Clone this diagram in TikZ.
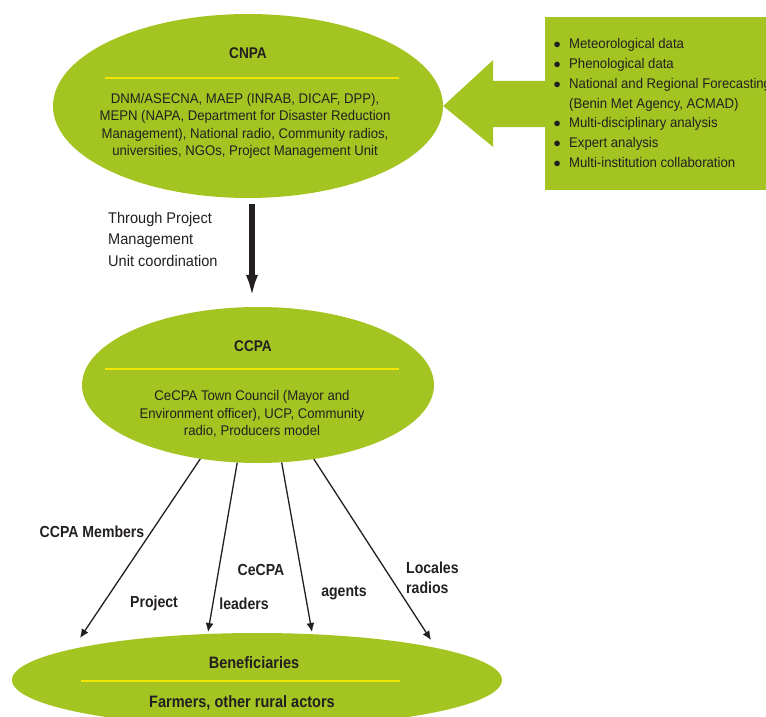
\documentclass[tikz,border=0pt]{standalone}
\usepackage{fontspec}
\setmainfont[FakeStretch=0.94,BoldFeatures={FakeStretch=0.88}]{Liberation Sans}
\usetikzlibrary{arrows.meta,shapes.geometric,calc}

\definecolor{leaf}{HTML}{A4C422}
\definecolor{rulecol}{HTML}{F2E500}
\definecolor{ink}{HTML}{231F20}

\newcommand\sepline[3]{\draw[rulecol, line width=2pt] (#1,#3) -- (#2,#3);}
\newcommand\itm{\makebox[16pt][l]{\hspace{0.5pt}$\bullet$}}

\tikzset{
  blob/.style={ellipse, fill=leaf, inner sep=0pt},
  body/.style={align=center, text=ink, inner sep=0pt, font=\fontsize{14}{17.4}\selectfont},
  head/.style={text=ink, inner sep=0pt, font=\bfseries\fontsize{15.5}{18}\selectfont},
  lab/.style={text=ink, inner sep=0pt, align=left, font=\bfseries\fontsize{16}{20}\selectfont},
  feed/.style={-{Latex[length=9pt,width=8pt]}, line width=1.3pt, ink},
}

\begin{document}
\begin{tikzpicture}[x=1pt, y=-1pt]
    \useasboundingbox (0,0) rectangle (766,717);

    % national level
    \node[blob, minimum width=390pt, minimum height=184pt] (cnpa) at (248,106) {};
    \node[head] (cnpahead) at (248,53) {CNPA};
    \sepline{105}{399}{78}
    \node[body] (cnpabody) at (245,126) {DNM/ASECNA, MAEP (INRAB, DICAF, DPP),\\
        MEPN (NAPA, Department for Disaster Reduction\\
        Management), National radio, Community radios,\\
        universities, NGOs, Project Management Unit};

    % inputs box and block arrow
    \node[fill=leaf, anchor=north west, minimum width=250pt, minimum height=173pt, inner sep=0pt] (info) at (545,17) {};
    \node[anchor=west, align=left, text=ink, inner sep=0pt, font=\fontsize{14}{19.7}\selectfont] (inputs) at (553,103)
        {\itm Meteorological data\\
         \itm Phenological data\\
         \itm National and Regional Forecasting\\
         \hspace{16pt}(Benin Met Agency, ACMAD)\\
         \itm Multi-disciplinary analysis\\
         \itm Expert analysis\\
         \itm Multi-institution collaboration};
    \fill[leaf] (cnpa.east) -- ++(50,-46) -- ++(0,21) -- ++(54,0) -- ++(0,46)
        -- ++(-54,0) -- ++(0,20) -- cycle;

    % communal level
    \node[blob, minimum width=352pt, minimum height=156pt] (ccpa) at (258,385) {};
    \node[head] (ccpahead) at (253,346) {CCPA};
    \sepline{105}{399}{369}
    \node[body] (ccpabody) at (252,414) {CeCPA Town Council (Mayor and\\
        Environment officer), UCP, Community\\
        radio, Producers model};

    % down to communal level
    \draw[line width=5.5pt, ink, -{Latex[length=24pt,width=12pt]}] ($(cnpa.south)+(4,6)$) -- ($(ccpa.north)+(-6,-8)$);
    \node[anchor=north west, align=left, text=ink, inner sep=0pt, font=\fontsize{15.5}{21.5}\selectfont] (through) at (108,212)
        {Through Project\\ Management\\ Unit coordination};

    % beneficiaries
    \node[blob, minimum width=490pt, minimum height=94pt] (benef) at (257,680) {};
    \node[head, font=\bfseries\fontsize{16.5}{20}\selectfont] (benefhead) at (254,663) {Beneficiaries};
    \sepline{81}{400}{681}
    \node[head, font=\bfseries\fontsize{16.5}{20}\selectfont] (benefbody) at (242,703) {Farmers, other rural actors};

    % channels
    \coordinate (tipA) at (80,638);
    \coordinate (tipB) at (208,632);
    \coordinate (tipC) at (312,632);
    \coordinate (tipD) at (431,640);
    \draw[feed] (ccpa.232) -- (tipA);
    \draw[feed] (ccpa.255) -- (tipB);
    \draw[feed] (ccpa.287) -- (tipC);
    \draw[feed] (ccpa.307) -- (tipD);

    \node[lab] (members) at (92,532) {CCPA Members};
    \node[lab] (project) at (154,603) {Project};
    \node[lab] (cecpa) at (261,570) {CeCPA};
    \node[lab] (leaders) at (244,604) {leaders};
    \node[lab] (agents) at (344,593) {agents};
    \node[lab, anchor=west, font=\bfseries\fontsize{16}{20}\selectfont] (radios) at (406,578) {Locales\\ radios};
\end{tikzpicture}
\end{document}
